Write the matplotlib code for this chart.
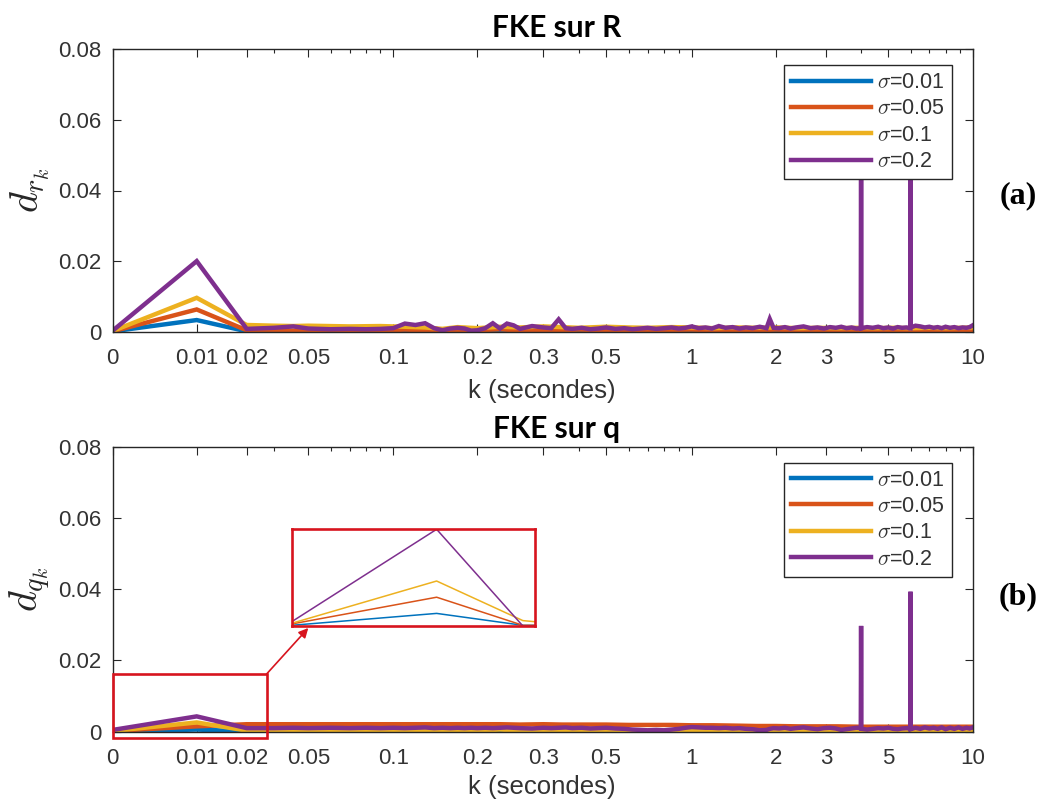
import numpy as np
import matplotlib
matplotlib.use('Agg')
import matplotlib.pyplot as plt
from matplotlib.patches import Rectangle
from matplotlib.ticker import NullLocator

plt.rcParams['font.family'] = ['Liberation Sans', 'DejaVu Sans']
plt.rcParams['mathtext.fontset'] = 'cm'

# ---------------- data ----------------
series_labels = [r'$\sigma$=0.01', r'$\sigma$=0.05', r'$\sigma$=0.1', r'$\sigma$=0.2']
series_colors = ['#0072BD', '#D95319', '#EDB120', '#7E2F8E']

XT_VALS = [0, 0.01, 0.02, 0.05, 0.1, 0.2, 0.3, 0.5, 1, 2, 3, 5, 10]
XT_LABELS = ['0', '0.01', '0.02', '0.05', '0.1', '0.2', '0.3', '0.5', '1', '2', '3', '5', '10']
XT_MINOR = [0.03, 0.06, 0.07, 0.08, 0.09, 0.4, 0.6, 0.7, 0.8, 0.9, 4, 6, 7, 8, 9]
YT_VALS = [0, 0.02, 0.04, 0.06, 0.08]
YT_LABELS = ['0', '0.02', '0.04', '0.06', '0.08']

# fine time grid (seconds) for the sigma=0.2 curves
k_fine = [0, 0.01, 0.02, 0.03, 0.04, 0.05, 0.06, 0.07, 0.08, 0.09,
          0.10, 0.11, 0.12, 0.13, 0.14, 0.15, 0.16, 0.17, 0.18, 0.19,
          0.20, 0.21, 0.22, 0.23, 0.24, 0.25, 0.26, 0.28, 0.30, 0.32,
          0.34, 0.36, 0.38, 0.41, 0.44, 0.47, 0.50, 0.54, 0.58, 0.62,
          0.66, 0.70, 0.75, 0.80, 0.85, 0.90, 0.95, 1.00, 1.06, 1.12,
          1.18, 1.25, 1.32, 1.40, 1.48, 1.56, 1.65, 1.75, 1.85, 1.90,
          1.96, 2.05, 2.15, 2.25, 2.35, 2.50, 2.65, 2.80, 2.95, 3.10,
          3.25, 3.40, 3.55, 3.70, 3.85, 3.99, 4.00, 4.01, 4.20, 4.40,
          4.60, 4.80, 5.00, 5.20, 5.40, 5.60, 5.80, 5.99, 6.00, 6.01,
          6.25, 6.50, 6.75, 7.00, 7.25, 7.50, 7.75, 8.00, 8.30, 8.60,
          8.90, 9.20, 9.50, 9.75, 10.0]

# coarse time grid for the other curves
k_coarse = [0, 0.01, 0.02, 0.03, 0.04, 0.05, 0.07, 0.09, 0.11, 0.13,
            0.15, 0.17, 0.20, 0.23, 0.26, 0.30, 0.35, 0.40, 0.50, 0.60,
            0.70, 0.85, 1.00, 1.20, 1.45, 1.70, 2.00, 2.40, 2.80, 3.30,
            3.90, 4.50, 5.20, 6.00, 7.00, 8.00, 9.00, 10.0]

# (a) FKE sur R
dR_001 = [0.0001, 0.0033, 0.0001, 0.0001, 0.0001, 0.0001, 0.0001, 0.0001, 0.0002, 0.0001,
          0.0001, 0.0002, 0.0001, 0.0001, 0.0002, 0.0001, 0.0001, 0.0002, 0.0001, 0.0001,
          0.0002, 0.0001, 0.0001, 0.0002, 0.0001, 0.0002, 0.0001, 0.0002, 0.0001, 0.0002,
          0.0001, 0.0002, 0.0001, 0.0002, 0.0001, 0.0002, 0.0001, 0.0002]
dR_005 = [0.0001, 0.0063, 0.0004, 0.0004, 0.0003, 0.0005, 0.0004, 0.0003, 0.0006, 0.0004,
          0.0003, 0.0005, 0.0004, 0.0007, 0.0003, 0.0005, 0.0004, 0.0006, 0.0004, 0.0005,
          0.0004, 0.0005, 0.0006, 0.0004, 0.0005, 0.0004, 0.0006, 0.0004, 0.0005, 0.0004,
          0.0005, 0.0004, 0.0005, 0.0004, 0.0005, 0.0004, 0.0005, 0.0005]
dR_01 = [0.0002, 0.0096, 0.0019, 0.0017, 0.0016, 0.0017, 0.0015, 0.0016, 0.0014, 0.0012,
         0.0008, 0.0013, 0.0010, 0.0014, 0.0012, 0.0015, 0.0013, 0.0011, 0.0014, 0.0012,
         0.0011, 0.0013, 0.0012, 0.0010, 0.0012, 0.0011, 0.0012, 0.0010, 0.0011, 0.0010,
         0.0011, 0.0010, 0.0011, 0.0010, 0.0011, 0.0010, 0.0011, 0.0012]
dR_02 = [0.0003, 0.0200, 0.0008, 0.0011, 0.0015, 0.0009, 0.0007, 0.0008, 0.0007, 0.0008,
         0.0010, 0.0023, 0.0019, 0.0024, 0.0010, 0.0004, 0.0009, 0.0011, 0.0009, 0.0003,
         0.0004, 0.0010, 0.0024, 0.0009, 0.0023, 0.0018, 0.0008, 0.0016, 0.0012, 0.0010,
         0.0035, 0.0010, 0.0008, 0.0011, 0.0007, 0.0009, 0.0012, 0.0008, 0.0010, 0.0007,
         0.0009, 0.0011, 0.0008, 0.0010, 0.0012, 0.0009, 0.0011, 0.0015, 0.0010, 0.0012,
         0.0009, 0.0016, 0.0011, 0.0013, 0.0009, 0.0012, 0.0010, 0.0014, 0.0010, 0.0036,
         0.0011, 0.0010, 0.0013, 0.0009, 0.0012, 0.0015, 0.0010, 0.0012, 0.0009, 0.0013,
         0.0011, 0.0014, 0.0010, 0.0012, 0.0009, 0.0010, 0.0600, 0.0010, 0.0013, 0.0011,
         0.0014, 0.0010, 0.0012, 0.0009, 0.0013, 0.0011, 0.0012, 0.0010, 0.0600, 0.0012,
         0.0017, 0.0015, 0.0012, 0.0014, 0.0011, 0.0013, 0.0010, 0.0014, 0.0011, 0.0013,
         0.0010, 0.0012, 0.0011, 0.0013, 0.0018]

# (b) FKE sur q
dq_001 = [0.0001, 0.0006, 0.0001, 0.0001, 0.0001, 0.0001, 0.0001, 0.0001, 0.0001, 0.0001,
          0.0001, 0.0001, 0.0001, 0.0001, 0.0001, 0.0001, 0.0001, 0.0001, 0.0001, 0.0001,
          0.0001, 0.0001, 0.0001, 0.0001, 0.0001, 0.0001, 0.0001, 0.0001, 0.0001, 0.0001,
          0.0001, 0.0001, 0.0001, 0.0001, 0.0001, 0.0001, 0.0001, 0.0001]
dq_005 = [0.0002, 0.0015, 0.0021, 0.0021, 0.0021, 0.0021, 0.0021, 0.0021, 0.0021, 0.0021,
          0.0021, 0.0021, 0.0021, 0.0021, 0.0020, 0.0021, 0.0020, 0.0020, 0.0020, 0.0019,
          0.0019, 0.0019, 0.0018, 0.0018, 0.0017, 0.0016, 0.0016, 0.0015, 0.0015, 0.0015,
          0.0014, 0.0014, 0.0014, 0.0014, 0.0014, 0.0014, 0.0014, 0.0014]
dq_01 = [0.0002, 0.0026, 0.0003, 0.0002, 0.0002, 0.0002, 0.0002, 0.0002, 0.0002, 0.0002,
         0.0002, 0.0002, 0.0003, 0.0006, 0.0003, 0.0002, 0.0003, 0.0002, 0.0002, 0.0001,
         0.0001, 0.0001, 0.0003, 0.0003, 0.0002, 0.0003, 0.0003, 0.0002, 0.0003, 0.0002,
         0.0002, 0.0003, 0.0002, 0.0003, 0.0002, 0.0002, 0.0003, 0.0002]
dq_02 = [0.0005, 0.0043, 0.0010, 0.0010, 0.0011, 0.0010, 0.0011, 0.0010, 0.0011, 0.0010,
         0.0011, 0.0010, 0.0011, 0.0012, 0.0010, 0.0011, 0.0010, 0.0011, 0.0010, 0.0011,
         0.0010, 0.0011, 0.0010, 0.0011, 0.0012, 0.0011, 0.0010, 0.0009, 0.0011, 0.0010,
         0.0011, 0.0012, 0.0010, 0.0011, 0.0009, 0.0010, 0.0011, 0.0009, 0.0008, 0.0006,
         0.0005, 0.0004, 0.0005, 0.0004, 0.0006, 0.0008, 0.0011, 0.0013, 0.0012, 0.0011,
         0.0011, 0.0010, 0.0011, 0.0009, 0.0010, 0.0008, 0.0007, 0.0004, 0.0005, 0.0008,
         0.0010, 0.0009, 0.0011, 0.0008, 0.0010, 0.0012, 0.0009, 0.0007, 0.0010, 0.0011,
         0.0009, 0.0005, 0.0007, 0.0009, 0.0011, 0.0010, 0.0297, 0.0008, 0.0006, 0.0008,
         0.0010, 0.0009, 0.0011, 0.0008, 0.0007, 0.0009, 0.0010, 0.0009, 0.0393, 0.0007,
         0.0011, 0.0008, 0.0012, 0.0009, 0.0011, 0.0008, 0.0012, 0.0007, 0.0011, 0.0008,
         0.0012, 0.0008, 0.0011, 0.0009, 0.0012]

# zoomed view (inset) of the first samples of (b)
zoom_k = [0, 0.01, 0.02, 0.0222]
zoom_001 = [0.00003, 0.00056, 0.00003, 0.00003]
zoom_005 = [0.00009, 0.00128, 0.00003, 0.00003]
zoom_01 = [0.00012, 0.00200, 0.00024, 0.00019]
zoom_02 = [0.00019, 0.00430, 0.00000, 0.00000]
zoom_box = (0.0, 0.0269, -0.0017, 0.0162)   # region shown in the inset (k0, k1, y0, y1)

# ---------------- custom k axis ----------------
W, H = 1057, 800
XT_PX = np.array([112.7, 196.7, 246.7, 308.3, 393.3, 477.3, 543.3, 606.0,
                  691.7, 776.0, 826.0, 888.3, 972.7])
XT_FRAC = (XT_PX - XT_PX[0]) / (XT_PX[-1] - XT_PX[0])


def _g(k):
    k = np.asarray(k, dtype=float)
    lg = np.log10(np.where(k > 0.01, k, 0.01))
    return np.where(k >= 0.01, lg, -3.0 + k / 0.01)


G_T = _g(np.array(XT_VALS, dtype=float))


def _interp_ext(x, xp, fp):
    x = np.asarray(x, dtype=float)
    y = np.interp(x, xp, fp)
    y = np.where(x < xp[0], fp[0] + (x - xp[0]) * (fp[1] - fp[0]) / (xp[1] - xp[0]), y)
    y = np.where(x > xp[-1], fp[-1] + (x - xp[-1]) * (fp[-1] - fp[-2]) / (xp[-1] - xp[-2]), y)
    return y


def fwd(k):
    return _interp_ext(_g(k), G_T, XT_FRAC)


def inv(u):
    g = _interp_ext(u, XT_FRAC, G_T)
    g = np.clip(g, -50, 50)
    return np.where(g >= -2, 10.0 ** g, (g + 3.0) * 0.01)


def px_rect(l, t, r, b):
    return [l / W, 1 - b / H, (r - l) / W, (b - t) / H]


fig = plt.figure(figsize=(W / 100, H / 100), dpi=100)
ax1 = fig.add_axes(px_rect(112.7, 49.3, 972.7, 331.7))
ax2 = fig.add_axes(px_rect(112.7, 446.7, 972.7, 731.7))

TXT = '#262626'
TICK_TXT = '#333333'


def style(ax):
    ax.set_xscale('function', functions=(fwd, inv))
    ax.set_xlim(0, 10)
    ax.set_ylim(0, 0.08)
    ax.set_xticks(XT_VALS)
    ax.set_xticklabels(XT_LABELS)
    ax.set_xticks(XT_MINOR, minor=True)
    ax.set_yticks(YT_VALS)
    ax.set_yticklabels(YT_LABELS)
    ax.yaxis.set_minor_locator(NullLocator())
    ax.tick_params(which='both', direction='in', top=True, right=True,
                   colors=TXT, labelcolor=TICK_TXT, labelsize=16, width=0.8)
    ax.tick_params(which='major', length=5.5)
    ax.tick_params(which='minor', length=3)
    ax.tick_params(axis='x', which='both', pad=12)
    ax.tick_params(axis='y', which='both', pad=8)
    for s in ax.spines.values():
        s.set_color(TXT)
        s.set_linewidth(1.0)


LW = 3.2
for ax, kc, kf, ys in [(ax1, k_coarse, k_fine, [dR_001, dR_005, dR_01, dR_02]),
                       (ax2, k_coarse, k_fine, [dq_001, dq_005, dq_01, dq_02])]:
    style(ax)
    handles = []
    for i, (y, c, lab) in enumerate(zip(ys, series_colors, series_labels)):
        kk = kf if i == 3 else kc
        h, = ax.plot(kk, y, color=c, lw=LW, label=lab, solid_joinstyle='miter')
        handles.append(h)
    leg = ax.legend(handles=handles, loc='upper right',
                    bbox_to_anchor=(1 - 20.4 / 860, 1 - 15.7 / 282.4),
                    borderaxespad=0, fontsize=15.5, handlelength=3.7,
                    handletextpad=0.3, labelspacing=0.25, borderpad=0.33,
                    frameon=True, fancybox=False, edgecolor=TXT, framealpha=1)
    leg.get_frame().set_linewidth(1.0)
    for t in leg.get_texts():
        t.set_color(TICK_TXT)

# titles, axis labels, panel tags
TITLE_FONT = dict(family=['Lato', 'DejaVu Sans'], weight='bold', size=21.5, color='black')
fig.text(557 / W, 1 - 37 / H, 'FKE sur R', ha='center', va='baseline', **TITLE_FONT)
fig.text(557 / W, 1 - 438 / H, 'FKE sur q', ha='center', va='baseline', **TITLE_FONT)
fig.text(542 / W, 1 - 398 / H, 'k (secondes)', ha='center', va='baseline', fontsize=18.5, color=TICK_TXT)
fig.text(542 / W, 1 - 794 / H, 'k (secondes)', ha='center', va='baseline', fontsize=18.5, color=TICK_TXT)
fig.text(30 / W, 1 - 190.5 / H, r'$d_{r_k}$', rotation=90, ha='center', va='center', fontsize=29, color=TXT)
fig.text(30 / W, 1 - 589 / H, r'$d_{q_k}$', rotation=90, ha='center', va='center', fontsize=29, color=TXT)
TAG_FONT = dict(family=['Liberation Serif', 'DejaVu Serif'], weight='bold', size=23, color='black')
fig.text(1018 / W, 1 - 196 / H, '(a)', ha='center', va='center', **TAG_FONT)
fig.text(1018 / W, 1 - 597 / H, '(b)', ha='center', va='center', **TAG_FONT)

# zoom rectangle, arrow and inset on (b)
RED = '#D7141E'
k0, k1, y0, y1 = zoom_box
ax2.add_patch(Rectangle((k0, y0), k1 - k0, y1 - y0, fill=False, edgecolor=RED,
                        lw=1.9, clip_on=False, zorder=6))
ax2.annotate('', xy=(308.3 / W, 1 - 628 / H), xycoords='figure fraction',
             xytext=(k1, y1), textcoords='data', annotation_clip=False,
             arrowprops=dict(arrowstyle='-|>', color=RED, lw=1.2, mutation_scale=14,
                             shrinkA=0, shrinkB=0))

axin = fig.add_axes(px_rect(291.7, 529.3, 535.0, 626.0))
axin.set_xscale('function', functions=(fwd, inv))
axin.set_xlim(0, zoom_k[-1])
axin.set_ylim(0, 0.0043)
for y, c in zip([zoom_001, zoom_005, zoom_01, zoom_02], series_colors):
    axin.plot(zoom_k, y, color=c, lw=1.1)
axin.set_xticks([])
axin.set_yticks([])
axin.xaxis.set_minor_locator(NullLocator())
for s in axin.spines.values():
    s.set_color(RED)
    s.set_linewidth(1.9)

fig.savefig('out.png', dpi=100)
